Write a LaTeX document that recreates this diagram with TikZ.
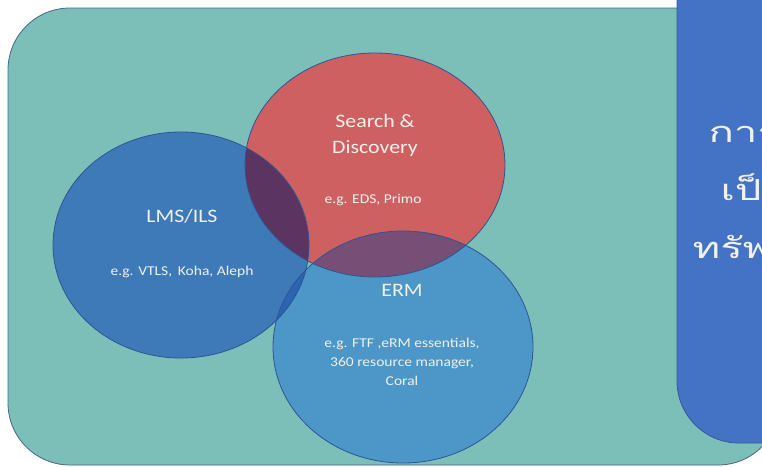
\documentclass[tikz,border=0pt]{standalone}
\usepackage{fontspec}
\setmainfont{Carlito}[FakeStretch=1.15]
\newfontfamily\thaifont[Script=Thai,FakeStretch=1.45]{Loma}
\definecolor{teal0}{RGB}{124,190,184}
\definecolor{tealedge}{RGB}{75,100,140}
\definecolor{boxblue}{RGB}{68,114,196}
\definecolor{boxedge}{RGB}{55,90,150}
\definecolor{lmsc}{RGB}{62,122,184}
\definecolor{redc}{RGB}{206,96,98}
\definecolor{ermc}{RGB}{76,150,200}
\definecolor{lmsred}{RGB}{92,52,98}
\definecolor{rederm}{RGB}{118,78,118}
\definecolor{lmserm}{RGB}{44,100,176}
\definecolor{triple}{RGB}{70,45,95}
\definecolor{circedge}{RGB}{45,85,150}
\definecolor{txt}{RGB}{240,240,236}
\tikzset{
  title/.style={text=txt,align=center,font=\fontsize{19}{26}\selectfont},
  sub/.style={text=txt,align=center,font=\fontsize{13.5}{19}\selectfont},
  thaitxt/.style={text=txt,anchor=base west,font=\thaifont\fontsize{29}{34}\selectfont},
  circ/.style={draw=circedge,line width=0.8pt}
}
\begin{document}
\begin{tikzpicture}[x=1pt,y=-1pt]
\useasboundingbox (0,0) rectangle (762,466);
\clip (0,0) rectangle (762,466);
\fill[white] (0,0) rectangle (762,466);
% teal panel
\draw[fill=teal0,draw=tealedge,line width=0.8pt,rounded corners=62pt] (8,8) rectangle (780,465);
% circles
\fill[lmsc] (181,245) ellipse [x radius=128pt, y radius=113pt];
\fill[redc] (375,165) ellipse [x radius=130pt, y radius=112pt];
\fill[ermc] (403,347) ellipse [x radius=130pt, y radius=116pt];
\begin{scope}
  \clip (181,245) ellipse [x radius=128pt, y radius=113pt];
  \fill[lmsred] (375,165) ellipse [x radius=130pt, y radius=112pt];
  \fill[lmserm] (403,347) ellipse [x radius=130pt, y radius=116pt];
  \clip (375,165) ellipse [x radius=130pt, y radius=112pt];
  \fill[triple] (403,347) ellipse [x radius=130pt, y radius=116pt];
\end{scope}
\begin{scope}
  \clip (375,165) ellipse [x radius=130pt, y radius=112pt];
  \clip (403,347) ellipse [x radius=130pt, y radius=116pt];
  \fill[rederm] (403,347) ellipse [x radius=130pt, y radius=116pt];
  \clip (181,245) ellipse [x radius=128pt, y radius=113pt];
  \fill[triple] (403,347) ellipse [x radius=130pt, y radius=116pt];
\end{scope}
\draw[circ] (181,245) ellipse [x radius=128pt, y radius=113pt];
\draw[circ] (375,165) ellipse [x radius=130pt, y radius=112pt];
\draw[circ] (403,347) ellipse [x radius=130pt, y radius=116pt];
% texts
\node[title] (sd) at (375,135) {Search \&\\Discovery};
\node[sub] (sdx) at (373,200) {e.g. EDS, Primo};
\node[title] (lms) at (182,216) {LMS/ILS};
\node[sub] (lmsx) at (182,272) {e.g. VTLS,\, Koha, Aleph};
\node[title] (erm) at (402,290) {ERM};
\node[sub] (ermx) at (402,362) {e.g. FTF ,eRM essentials,\\360 resource manager,\\Coral};
% blue box
\draw[fill=boxblue,draw=boxedge,line width=0.8pt,rounded corners=62pt] (677,-80) rectangle (840,443);
\node[thaitxt] (t1) at (705,142) {การจัดการ};
\node[thaitxt] (t2) at (717,200) {เป็นระบบ};
\node[thaitxt] (t3) at (689,258) {ทรัพยากร};
\end{tikzpicture}
\end{document}
